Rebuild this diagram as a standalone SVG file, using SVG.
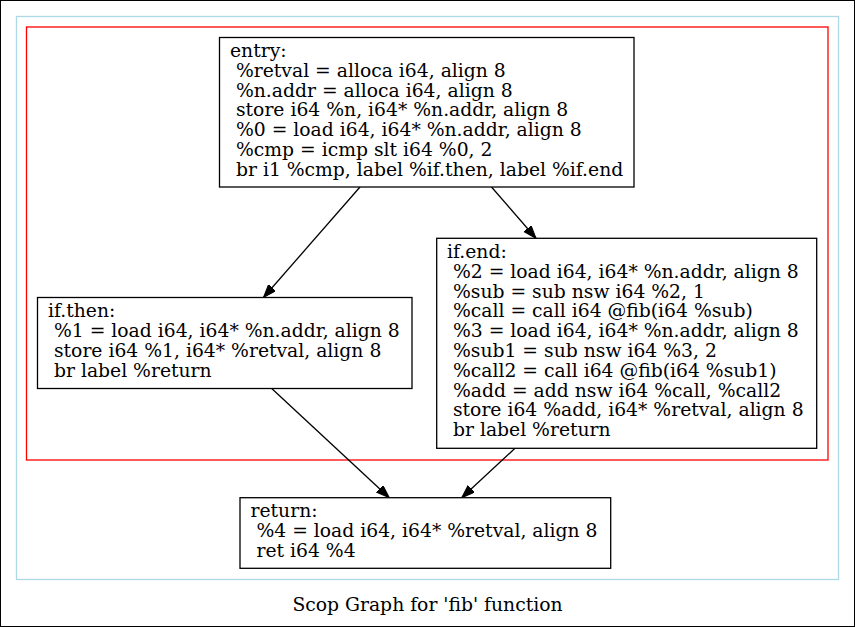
<svg xmlns="http://www.w3.org/2000/svg" width="855" height="627" viewBox="0 0 855 627">
<style>
text{font-family:"DejaVu Serif",serif;font-size:18.75px;fill:#000;white-space:pre}
.node rect{fill:#fff;stroke:#000;stroke-width:1.3}
.edge{stroke:#000;stroke-width:1.3;fill:none;marker-end:url(#ah)}
</style>
<defs>
<marker id="ah" markerUnits="userSpaceOnUse" markerWidth="14" markerHeight="10" refX="13" refY="4.7" orient="auto" viewBox="0 0 14 10">
<path d="M0,0 L13,4.7 L0,9.4 z" fill="#000" stroke="#000" stroke-width="1"/>
</marker>
</defs>
<rect x="0.5" y="0.5" width="854" height="626" fill="#fff" stroke="#000" stroke-width="1"/>
<g id="cluster_outer"><rect x="16.5" y="16.5" width="822" height="563" fill="none" stroke="#add8e6" stroke-width="1.3"/></g>
<g id="cluster_region"><rect x="26.5" y="27" width="801.5" height="433" fill="none" stroke="#ff0000" stroke-width="1.3"/></g>
<g id="edges">
<path class="edge" d="M360,187 L263.5,297.5"/>
<path class="edge" d="M491.5,187 L536,238.3"/>
<path class="edge" d="M271.7,388.5 L389.3,497.7"/>
<path class="edge" d="M515,448.3 L461.7,497.7"/>
</g>
<g id="entry" class="node">
<rect x="219.5" y="37.5" width="414.5" height="149.5"/>
<text x="230" y="57">entry:</text>
<text x="230" y="76.8"> %retval = alloca i64, align 8</text>
<text x="230" y="96.6"> %n.addr = alloca i64, align 8</text>
<text x="230" y="116.4"> store i64 %n, i64* %n.addr, align 8</text>
<text x="230" y="136.2"> %0 = load i64, i64* %n.addr, align 8</text>
<text x="230" y="156"> %cmp = icmp slt i64 %0, 2</text>
<text x="230" y="175.8"> br i1 %cmp, label %if.then, label %if.end</text>
</g>
<g id="if_then" class="node">
<rect x="37.5" y="297.5" width="374.5" height="91"/>
<text x="48" y="317.3">if.then:</text>
<text x="48" y="337.1"> %1 = load i64, i64* %n.addr, align 8</text>
<text x="48" y="356.9"> store i64 %1, i64* %retval, align 8</text>
<text x="48" y="376.7"> br label %return</text>
</g>
<g id="if_end" class="node">
<rect x="436.7" y="238.3" width="380" height="210"/>
<text x="447" y="258">if.end:</text>
<text x="447" y="277.8"> %2 = load i64, i64* %n.addr, align 8</text>
<text x="447" y="297.6"> %sub = sub nsw i64 %2, 1</text>
<text x="447" y="317.4"> %call = call i64 @fib(i64 %sub)</text>
<text x="447" y="337.2"> %3 = load i64, i64* %n.addr, align 8</text>
<text x="447" y="357"> %sub1 = sub nsw i64 %3, 2</text>
<text x="447" y="376.8"> %call2 = call i64 @fib(i64 %sub1)</text>
<text x="447" y="396.6"> %add = add nsw i64 %call, %call2</text>
<text x="447" y="416.4"> store i64 %add, i64* %retval, align 8</text>
<text x="447" y="436.2"> br label %return</text>
</g>
<g id="return" class="node">
<rect x="240" y="497.7" width="370.7" height="70.6"/>
<text x="250.5" y="517.3">return:</text>
<text x="250.5" y="537.1"> %4 = load i64, i64* %retval, align 8</text>
<text x="250.5" y="556.9"> ret i64 %4</text>
</g>
<text x="427.5" y="611" text-anchor="middle">Scop Graph for 'fib' function</text>
</svg>
